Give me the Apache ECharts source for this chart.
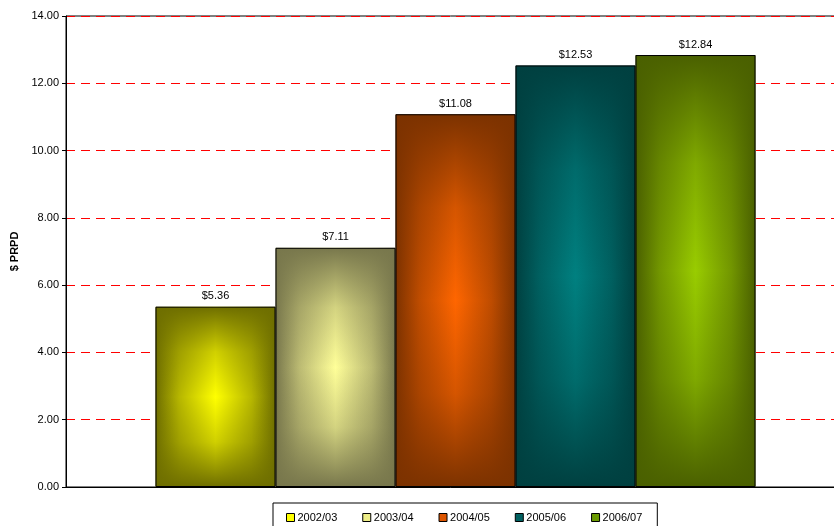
<!DOCTYPE html>
<html>
<head>
<meta charset="utf-8">
<script src="https://cdn.jsdelivr.net/npm/echarts@6/dist/echarts.min.js"></script>
<style>html,body{margin:0;padding:0;background:#fff;}#c{width:834px;height:526px;}</style>
</head>
<body>
<div id="c"></div>
<script>
const seriesNames = ['2002/03', '2003/04', '2004/05', '2005/06', '2006/07'];
const values = [5.36, 7.11, 11.08, 12.53, 12.84];
const yMin = 0, yMax = 14, yStep = 2;
const centerColors = ['#FFFF00', '#FFFF99', '#FF6600', '#008080', '#99CC00'];
const edgeColors = [[110, 110, 0], [120, 119, 76], [124, 50, 0], [0, 64, 64], [74, 96, 0]];
const legendColors = ['#FFFF00', '#EEEE88', '#DD5500', '#006060', '#6A9A00'];

const FONT = 'Liberation Sans, Arial, sans-serif';
function rgba(c, a) { return 'rgba(' + c[0] + ',' + c[1] + ',' + c[2] + ',' + a + ')'; }
function mix(c, hex, t) {
  const h = [parseInt(hex.slice(1, 3), 16), parseInt(hex.slice(3, 5), 16), parseInt(hex.slice(5, 7), 16)];
  return 'rgb(' + c.map((v, k) => Math.round(v + (h[k] - v) * t)).join(',') + ')';
}

const series = [];
seriesNames.forEach((name, i) => {
  const edge = rgba(edgeColors[i], 1);
  series.push({
    name: name, type: 'bar', xAxisIndex: 0, yAxisIndex: 0,
    barWidth: 120, barGap: '0%',
    data: [values[i]],
    itemStyle: {
      color: { type: 'linear', x: 0, y: 0, x2: 1, y2: 0,
        colorStops: [
          { offset: 0, color: edge },
          { offset: 0.2, color: mix(edgeColors[i], centerColors[i], 0.5) },
          { offset: 0.5, color: centerColors[i] },
          { offset: 0.8, color: mix(edgeColors[i], centerColors[i], 0.5) },
          { offset: 1, color: edge }] }
    },
    emphasis: { disabled: true }, silent: true
  });
});
seriesNames.forEach((name, i) => {
  const e = edgeColors[i];
  series.push({
    name: '_o' + i, type: 'bar', xAxisIndex: 1, yAxisIndex: 0,
    barWidth: 120, barGap: '0%',
    data: [values[i]],
    itemStyle: {
      color: { type: 'linear', x: 0, y: 0, x2: 0, y2: 1,
        colorStops: [
          { offset: 0, color: rgba(e, 1) },
          { offset: 0.1, color: rgba(e, 0.72) },
          { offset: 0.25, color: rgba(e, 0.32) },
          { offset: 0.5, color: rgba(e, 0) },
          { offset: 0.75, color: rgba(e, 0.32) },
          { offset: 0.9, color: rgba(e, 0.72) },
          { offset: 1, color: rgba(e, 1) }] },
      borderColor: '#000', borderWidth: 1
    },
    label: { show: true, position: 'top', distance: 5, color: '#000', fontFamily: FONT, fontSize: 11,
      formatter: p => '$' + p.value.toFixed(2) },
    emphasis: { disabled: true }, silent: true
  });
});

const chart = echarts.init(document.getElementById('c'), null, { renderer: 'canvas' });
chart.setOption({
  animation: false,
  backgroundColor: '#fff',
  grid: { left: 66, top: 16, width: 779, height: 471, outerBoundsMode: 'none', containLabel: false,
    show: true, borderColor: '#000', borderWidth: 1, backgroundColor: 'transparent' },
  legend: {
    data: seriesNames.map((n, i) => ({ name: n, itemStyle: { color: legendColors[i], borderColor: '#000', borderWidth: 1 } })),
    left: 273, top: 503, orient: 'horizontal',
    icon: 'rect', itemWidth: 8, itemHeight: 8, itemGap: 25,
    padding: [9, 15, 12, 13],
    borderColor: '#000', borderWidth: 1,
    textStyle: { fontFamily: FONT, fontSize: 11, color: '#000', padding: [0, 0, 0, -2] },
    selectedMode: false
  },
  xAxis: [
    { type: 'category', data: [''], axisLine: { show: true, lineStyle: { color: '#000', width: 1 } }, axisTick: { show: false }, axisLabel: { show: false }, splitLine: { show: false } },
    { type: 'category', data: [''], show: false, position: 'bottom' }
  ],
  yAxis: {
    type: 'value', min: yMin, max: yMax, interval: yStep,
    name: '$ PRPD', nameLocation: 'middle', nameGap: 45, nameRotate: 90,
    nameTextStyle: { fontFamily: FONT, fontSize: 11, fontWeight: 'bold', color: '#000' },
    axisLine: { show: true, lineStyle: { color: '#000', width: 1 } },
    axisTick: { show: true, length: 4, lineStyle: { color: '#000' } },
    axisLabel: { fontFamily: FONT, fontSize: 11, color: '#000', margin: 7, formatter: v => v.toFixed(2) },
    splitArea: { show: false },
    splitLine: { show: true, lineStyle: { color: ['rgb(255,0,0)'], width: 1, opacity: 1, type: [9, 6], dashOffset: 0, cap: 'butt' } }
  },
  series: series
});
</script>
</body>
</html>
